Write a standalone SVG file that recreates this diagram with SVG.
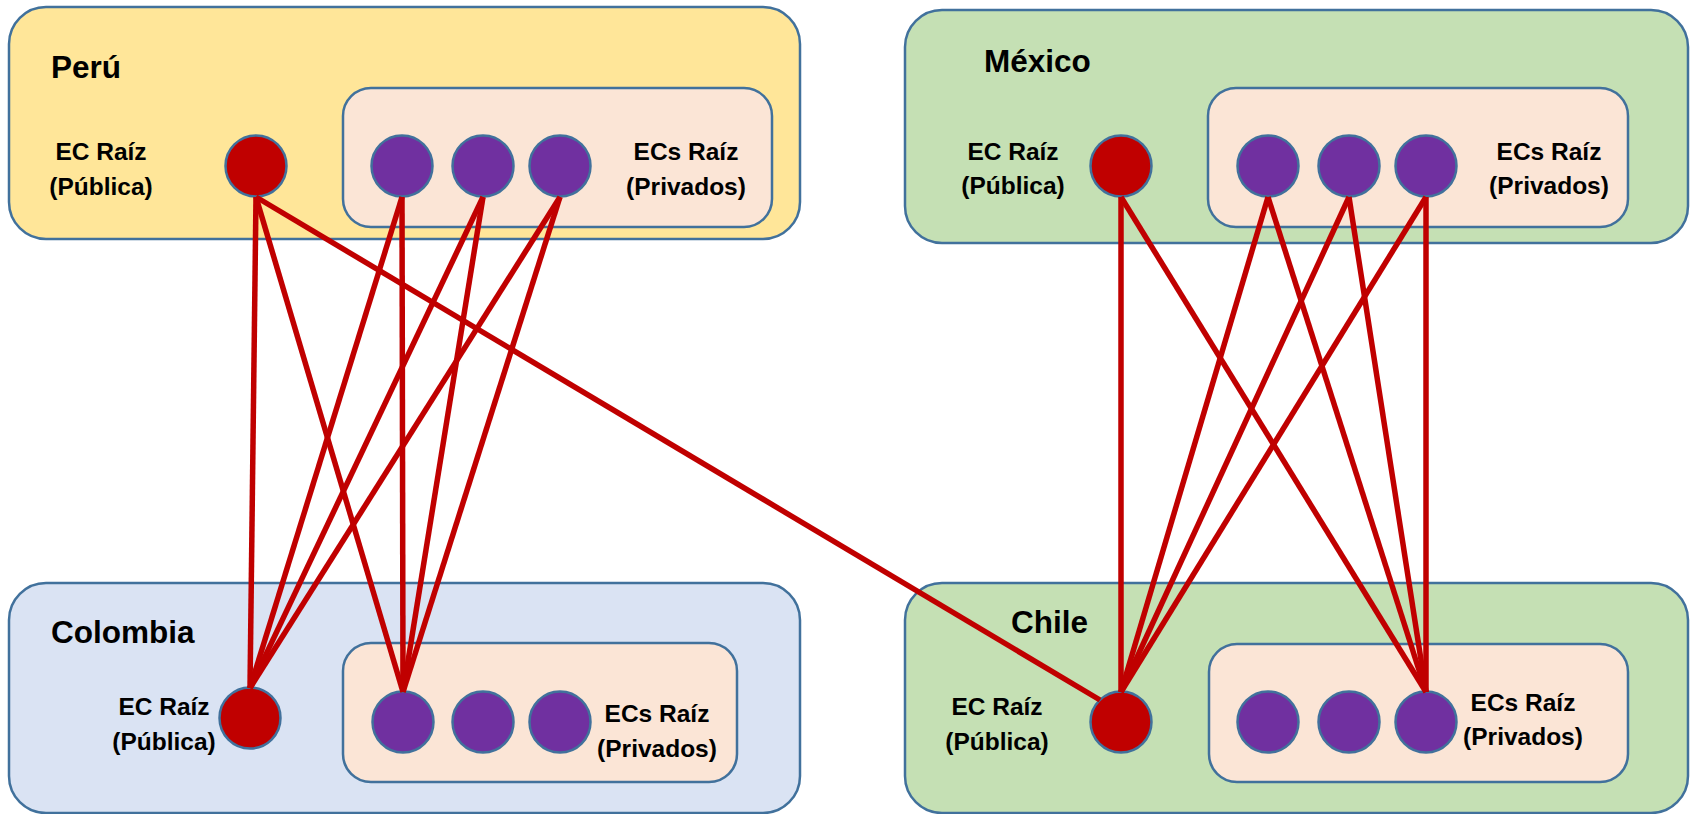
<svg xmlns="http://www.w3.org/2000/svg" width="1690" height="814" viewBox="0 0 1690 814">
<style>
.outer{stroke:#41719C;stroke-width:2.5}
.inner{fill:#FBE5D6;stroke:#41719C;stroke-width:2.5}
.peru{fill:#FFE699}
.green{fill:#C5E0B4}
.col{fill:#DAE3F3}
.pub{fill:#C00000;stroke:#41719C;stroke-width:2.5}
.priv{fill:#7030A0;stroke:#41719C;stroke-width:2.5}
.title{font-family:"Liberation Sans",Arial,sans-serif;font-weight:bold;font-size:31.5px;fill:#000}
.lbl{font-family:"Liberation Sans",Arial,sans-serif;font-weight:bold;font-size:24.5px;fill:#000;text-anchor:middle}
.con line{stroke:#C00000;stroke-width:5.5;stroke-linecap:butt}
</style>
<rect width="1690" height="814" fill="#FFFFFF"/>

<g id="peru">
  <rect class="outer peru" x="9" y="7" width="791" height="232" rx="37"/>
  <rect class="inner" x="343" y="88" width="429" height="139" rx="28"/>
  <text class="title" x="51" y="78">Perú</text>
  <text class="lbl" x="101" y="160">EC Raíz</text>
  <text class="lbl" x="101" y="195">(Pública)</text>
  <text class="lbl" x="686" y="160">ECs Raíz</text>
  <text class="lbl" x="686" y="195">(Privados)</text>
</g>
<g id="mexico">
  <rect class="outer green" x="905" y="10" width="783" height="233" rx="37"/>
  <rect class="inner" x="1208" y="88" width="420" height="139" rx="28"/>
  <text class="title" x="984" y="72">México</text>
  <text class="lbl" x="1013" y="160">EC Raíz</text>
  <text class="lbl" x="1013" y="194">(Pública)</text>
  <text class="lbl" x="1549" y="160">ECs Raíz</text>
  <text class="lbl" x="1549" y="194">(Privados)</text>
</g>
<g id="colombia">
  <rect class="outer col" x="9" y="583" width="791" height="230" rx="37"/>
  <rect class="inner" x="343" y="643" width="394" height="139" rx="28"/>
  <text class="title" x="51" y="643">Colombia</text>
  <text class="lbl" x="164" y="715">EC Raíz</text>
  <text class="lbl" x="164" y="750">(Pública)</text>
  <text class="lbl" x="657" y="722">ECs Raíz</text>
  <text class="lbl" x="657" y="757">(Privados)</text>
</g>
<g id="chile">
  <rect class="outer green" x="905" y="583" width="783" height="230" rx="37"/>
  <rect class="inner" x="1209" y="644" width="419" height="138" rx="28"/>
  <text class="title" x="1011" y="633">Chile</text>
  <text class="lbl" x="997" y="715">EC Raíz</text>
  <text class="lbl" x="997" y="750">(Pública)</text>
  <text class="lbl" x="1523" y="711">ECs Raíz</text>
  <text class="lbl" x="1523" y="745">(Privados)</text>
</g>

<g id="peru-pub"><circle class="pub" cx="256" cy="166" r="30.5"/></g>
<g id="peru-priv1"><circle class="priv" cx="402" cy="166" r="30.5"/></g>
<g id="peru-priv2"><circle class="priv" cx="483" cy="166" r="30.5"/></g>
<g id="peru-priv3"><circle class="priv" cx="560" cy="166" r="30.5"/></g>

<g id="mexico-pub"><circle class="pub" cx="1121" cy="166" r="30.5"/></g>
<g id="mexico-priv1"><circle class="priv" cx="1268" cy="166" r="30.5"/></g>
<g id="mexico-priv2"><circle class="priv" cx="1349" cy="166" r="30.5"/></g>
<g id="mexico-priv3"><circle class="priv" cx="1426" cy="166" r="30.5"/></g>

<g id="colombia-pub"><circle class="pub" cx="250" cy="718" r="30.5"/></g>
<g id="colombia-priv1"><circle class="priv" cx="403" cy="722" r="30.5"/></g>
<g id="colombia-priv2"><circle class="priv" cx="483" cy="722" r="30.5"/></g>
<g id="colombia-priv3"><circle class="priv" cx="560" cy="722" r="30.5"/></g>

<g id="chile-pub"><circle class="pub" cx="1121" cy="722" r="30.5"/></g>
<g id="chile-priv1"><circle class="priv" cx="1268" cy="722" r="30.5"/></g>
<g id="chile-priv2"><circle class="priv" cx="1349" cy="722" r="30.5"/></g>
<g id="chile-priv3"><circle class="priv" cx="1426" cy="722" r="30.5"/></g>

<g id="connectors" class="con">
  <line x1="256" y1="197" x2="250" y2="688"/>
  <line x1="256" y1="197" x2="403" y2="692"/>
  <line x1="256" y1="197" x2="1100" y2="700"/>
  <line x1="402" y1="197" x2="250" y2="688"/>
  <line x1="402" y1="197" x2="403" y2="692"/>
  <line x1="483" y1="197" x2="250" y2="688"/>
  <line x1="483" y1="197" x2="403" y2="692"/>
  <line x1="560" y1="197" x2="250" y2="688"/>
  <line x1="560" y1="197" x2="403" y2="692"/>
  <line x1="1121" y1="197" x2="1121" y2="692"/>
  <line x1="1121" y1="197" x2="1426" y2="692"/>
  <line x1="1268" y1="197" x2="1121" y2="692"/>
  <line x1="1268" y1="197" x2="1426" y2="692"/>
  <line x1="1349" y1="197" x2="1121" y2="692"/>
  <line x1="1349" y1="197" x2="1426" y2="692"/>
  <line x1="1426" y1="197" x2="1121" y2="692"/>
  <line x1="1426" y1="197" x2="1426" y2="692"/>
</g>
</svg>
